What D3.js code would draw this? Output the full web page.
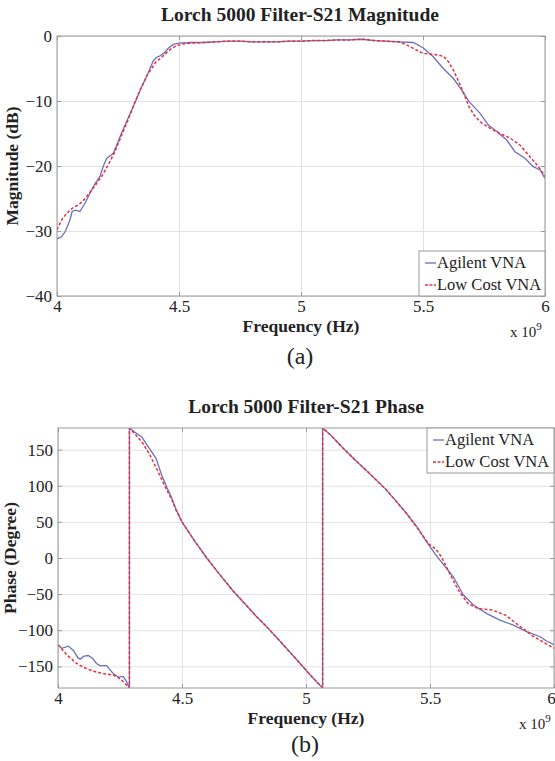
<!DOCTYPE html>
<html>
<head>
<meta charset="utf-8">
<script src="https://cdn.jsdelivr.net/npm/d3@7"></script>
<style>
  body { margin: 0; background: #fff; }
  svg text { font-family: "Liberation Serif", "Times New Roman", "DejaVu Serif", serif !important; fill: #222; }
</style>
</head>
<body>
<script>
// frequencies in GHz (axis shows x 10^9)
var freqTicks = [4, 4.5, 5, 5.5, 6];
var freqTickLabels = ["4", "4.5", "5", "5.5", "6"];
var magTicks = [0, -10, -20, -30, -40];
var phaseTicks = [-150, -100, -50, 0, 50, 100, 150];

var seriesNames = ["Agilent VNA", "Low Cost VNA"];

// S21 magnitude (dB)
var magFreqAgilent = [4.0, 4.019, 4.035, 4.053, 4.062, 4.075, 4.094, 4.115, 4.135, 4.156, 4.176, 4.19, 4.204, 4.22, 4.231, 4.248, 4.265, 4.285, 4.306, 4.327, 4.347, 4.365, 4.381, 4.395, 4.408, 4.425, 4.44, 4.456, 4.477, 4.5, 4.55, 4.6, 4.65, 4.7, 4.75, 4.8, 4.85, 4.9, 4.95, 5.0, 5.05, 5.1, 5.15, 5.2, 5.25, 5.3, 5.35, 5.4, 5.46, 5.5, 5.542, 5.583, 5.624, 5.658, 5.689, 5.734, 5.768, 5.802, 5.843, 5.877, 5.918, 5.952, 5.98, 6.0];
var magAgilent = [-31.2, -30.9, -30.0, -28.3, -27.0, -26.8, -27.0, -25.7, -24.2, -22.7, -21.6, -20.0, -18.8, -18.4, -18.0, -16.5, -14.9, -13.2, -11.4, -9.6, -7.8, -6.4, -5.0, -3.8, -3.3, -3.0, -2.6, -1.9, -1.3, -1.1, -1.0, -1.0, -0.9, -0.8, -0.8, -0.9, -0.9, -0.9, -0.8, -0.8, -0.7, -0.7, -0.6, -0.6, -0.5, -0.7, -0.8, -0.9, -1.0, -1.8, -3.2, -5.0, -6.5, -8.3, -10.1, -11.9, -13.7, -14.7, -16.0, -17.8, -18.8, -20.1, -20.6, -21.9];

var magFreqLowCost = [4.0, 4.019, 4.035, 4.053, 4.07, 4.087, 4.1, 4.115, 4.142, 4.16, 4.183, 4.2, 4.217, 4.235, 4.251, 4.27, 4.286, 4.303, 4.32, 4.337, 4.354, 4.37, 4.388, 4.405, 4.422, 4.44, 4.456, 4.475, 4.49, 4.518, 4.55, 4.6, 4.65, 4.7, 4.75, 4.8, 4.85, 4.9, 4.95, 5.0, 5.05, 5.1, 5.15, 5.2, 5.25, 5.3, 5.35, 5.4, 5.43, 5.46, 5.501, 5.542, 5.583, 5.605, 5.624, 5.64, 5.658, 5.675, 5.689, 5.71, 5.734, 5.775, 5.816, 5.857, 5.898, 5.939, 5.973, 6.0];
var magLowCost = [-29.8, -28.3, -27.5, -26.8, -26.3, -26.0, -25.6, -25.0, -23.7, -22.8, -21.6, -20.5, -19.3, -18.0, -16.5, -14.8, -13.4, -11.8, -10.1, -8.6, -7.3, -6.0, -5.0, -4.0, -3.5, -2.9, -2.3, -1.8, -1.5, -1.2, -1.1, -1.0, -0.9, -0.8, -0.8, -0.9, -0.9, -0.9, -0.8, -0.8, -0.7, -0.7, -0.6, -0.6, -0.5, -0.7, -0.8, -0.9, -1.3, -1.9, -2.7, -2.8, -3.1, -4.0, -5.2, -6.5, -8.0, -9.6, -10.9, -12.2, -13.2, -14.2, -15.0, -15.7, -16.8, -18.6, -20.1, -21.6];

// S21 phase (degree), wraps at +/-180
var phaseFreqAgilent = [4.0, 4.015, 4.042, 4.062, 4.08, 4.089, 4.105, 4.122, 4.14, 4.155, 4.169, 4.183, 4.196, 4.21, 4.223, 4.243, 4.263, 4.275, 4.288, 4.288, 4.31, 4.337, 4.36, 4.378, 4.395, 4.418, 4.44, 4.46, 4.475, 4.5, 4.55, 4.6, 4.65, 4.707, 4.75, 4.8, 4.841, 4.9, 4.95, 4.976, 5.02, 5.067, 5.067, 5.1, 5.15, 5.2, 5.25, 5.325, 5.4, 5.45, 5.487, 5.52, 5.54, 5.594, 5.634, 5.675, 5.729, 5.782, 5.836, 5.89, 5.944, 5.97, 6.0];
var phaseAgilent = [-120, -125, -122, -128, -138, -140, -136, -135, -139, -146, -149, -149, -149, -155, -160, -165, -164, -170, -180, 180, 174, 168, 156, 147, 138, 115, 97, 82, 68, 50, 24, 0, -22, -46, -62, -81, -95, -117, -136, -146, -163, -180, 180, 170, 152, 135, 119, 94, 64, 42, 22, 6, -3, -26, -51, -65, -77, -86, -93, -102, -109, -115, -120];

var phaseFreqLowCost = [4.0, 4.035, 4.055, 4.075, 4.1, 4.129, 4.155, 4.183, 4.223, 4.245, 4.263, 4.288, 4.288, 4.31, 4.34, 4.37, 4.4, 4.43, 4.46, 4.475, 4.5, 4.55, 4.6, 4.65, 4.707, 4.75, 4.8, 4.841, 4.9, 4.95, 4.976, 5.02, 5.067, 5.067, 5.1, 5.15, 5.2, 5.25, 5.325, 5.4, 5.45, 5.493, 5.524, 5.545, 5.573, 5.613, 5.653, 5.694, 5.75, 5.804, 5.857, 5.91, 5.964, 6.0];
var phaseLowCost = [-120, -134, -140, -146, -151, -155, -158, -160, -162, -166, -171, -180, 180, 172, 160, 143, 122, 100, 80, 67, 50, 24, 0, -22, -46, -62, -81, -95, -117, -136, -146, -163, -180, 180, 170, 152, 135, 119, 94, 64, 41, 20, 12, 2, -17, -44, -63, -70, -72, -79, -93, -107, -118, -125];

var blue = "#6b6fc0", red = "#e8303c";
var serif = "'Liberation Serif', 'Times New Roman', serif";

var svg = d3.select("body").append("svg")
    .attr("width", 555)
    .attr("height", 761)
    .attr("font-family", serif);

function zip(xs, ys) {
  return xs.map(function(f, i) { return {f: f, v: ys[i]}; });
}

function drawPanel(p) {
  var x = d3.scaleLinear().domain([4, 6]).range([0, p.width]);
  var y = d3.scaleLinear().domain(p.yDomain).range([p.height, 0]);

  var g = svg.append("g")
      .attr("transform", "translate(" + p.left + "," + p.top + ")");

  // grid
  g.append("g")
      .attr("class", "grid")
      .attr("transform", "translate(0," + p.height + ")")
      .call(d3.axisBottom(x).tickValues(freqTicks).tickSize(-p.height).tickFormat(""));
  g.append("g")
      .attr("class", "grid")
      .call(d3.axisLeft(y).tickValues(p.yTicks).tickSize(-p.width).tickFormat(""));
  g.selectAll(".grid line").attr("stroke", "#e2e2e2");
  g.selectAll(".grid .domain").remove();

  var clipId = "clip-" + p.id;
  g.append("clipPath").attr("id", clipId)
    .append("rect").attr("width", p.width).attr("height", p.height);

  var line = d3.line()
      .x(function(d) { return x(d.f); })
      .y(function(d) { return y(d.v); });

  var lines = g.append("g").attr("clip-path", "url(#" + clipId + ")");
  lines.append("path")
      .datum(zip(p.blueF, p.blueV))
      .attr("fill", "none")
      .attr("stroke", blue)
      .attr("stroke-width", 1.3)
      .attr("d", line);
  lines.append("path")
      .datum(zip(p.redF, p.redV))
      .attr("fill", "none")
      .attr("stroke", red)
      .attr("stroke-width", 1.5)
      .attr("stroke-dasharray", "3,2")
      .attr("d", line);

  // axes with inward ticks
  g.append("g")
      .attr("class", "axis")
      .attr("transform", "translate(0," + p.height + ")")
      .call(d3.axisBottom(x).tickValues(freqTicks).tickSize(-4).tickPadding(4)
        .tickFormat(function(d, i) { return freqTickLabels[i]; }));
  g.append("g")
      .attr("class", "axis")
      .call(d3.axisLeft(y).tickValues(p.yTicks).tickSize(-4).tickPadding(5));
  g.append("g").attr("class", "axis")
      .call(d3.axisTop(x).tickValues(freqTicks).tickSize(-4).tickFormat(""));
  g.append("g").attr("class", "axis")
      .attr("transform", "translate(" + p.width + ",0)")
      .call(d3.axisRight(y).tickValues(p.yTicks).tickSize(-4).tickFormat(""));
  g.selectAll(".axis").attr("font-family", serif).attr("font-size", 17);
  g.selectAll(".axis line").attr("stroke", "#999");
  g.selectAll(".axis .domain").remove();
  g.selectAll(".axis text").attr("fill", "#333");
  if (p.lastTickDx) {
    g.selectAll(".axis .tick text").filter(function(d) { return d === 6; })
        .attr("dx", p.lastTickDx);
  }

  g.append("rect")
      .attr("width", p.width)
      .attr("height", p.height)
      .attr("fill", "none")
      .attr("stroke", "#999");

  // title and labels
  g.append("text")
      .attr("x", p.titleX)
      .attr("y", p.titleY)
      .attr("text-anchor", "middle")
      .style("font-size", "19.5px")
      .style("font-weight", "bold")
      .text(p.title);

  g.append("text")
      .attr("text-anchor", "middle")
      .style("font-size", "17.5px")
      .style("font-weight", "bold")
      .attr("transform", "translate(" + p.yLabelX + "," + (p.height / 2) + ")rotate(-90)")
      .text(p.yLabel);

  g.append("text")
      .attr("x", p.width / 2)
      .attr("y", p.height + 36)
      .attr("text-anchor", "middle")
      .style("font-size", "17.5px")
      .style("font-weight", "bold")
      .text("Frequency (Hz)");

  var exp = g.append("text")
      .attr("x", p.width - 35)
      .attr("y", p.height + 41)
      .style("font-size", "15px");
  exp.append("tspan").text("x 10");
  exp.append("tspan").attr("dy", -7).style("font-size", "11px").text("9");

  g.append("text")
      .attr("x", p.width / 2 - 1)
      .attr("y", p.height + p.capDy)
      .attr("text-anchor", "middle")
      .style("font-size", "24px")
      .text(p.caption);

  // legend
  var lg = g.append("g")
      .attr("transform", "translate(" + p.legX + "," + p.legY + ")");
  lg.append("rect")
      .attr("width", p.width - p.legX)
      .attr("height", 45)
      .attr("fill", "#fff")
      .attr("stroke", "#999");
  seriesNames.forEach(function(name, i) {
    var yy = 12 + i * 22;
    lg.append("line")
        .attr("x1", 6).attr("x2", 17)
        .attr("y1", yy).attr("y2", yy)
        .attr("stroke", i === 0 ? blue : red)
        .attr("stroke-width", i === 0 ? 1.3 : 1.5)
        .attr("stroke-dasharray", i === 0 ? null : "3,1.5");
    lg.append("text")
        .attr("x", 18)
        .attr("y", yy + 5)
        .style("font-size", "16.5px")
        .text(name);
  });
}

drawPanel({
  id: "mag", left: 57, top: 36, width: 488, height: 260,
  yDomain: [-40, 0], yTicks: magTicks,
  blueF: magFreqAgilent, blueV: magAgilent,
  redF: magFreqLowCost, redV: magLowCost,
  title: "Lorch 5000 Filter-S21 Magnitude", titleX: 243, titleY: -15,
  yLabel: "Magnitude (dB)", yLabelX: -39,
  caption: "(a)", capDy: 68,
  legX: 362, legY: 215
});

drawPanel({
  id: "phase", left: 58, top: 428, width: 496, height: 260,
  yDomain: [-180, 180], yTicks: phaseTicks,
  blueF: phaseFreqAgilent, blueV: phaseAgilent,
  redF: phaseFreqLowCost, redV: phaseLowCost,
  title: "Lorch 5000 Filter-S21 Phase", titleX: 248, titleY: -15,
  yLabel: "Phase (Degree)", yLabelX: -42,
  caption: "(b)", capDy: 64,
  legX: 369, legY: 0, lastTickDx: -3
});
</script>
</body>
</html>
